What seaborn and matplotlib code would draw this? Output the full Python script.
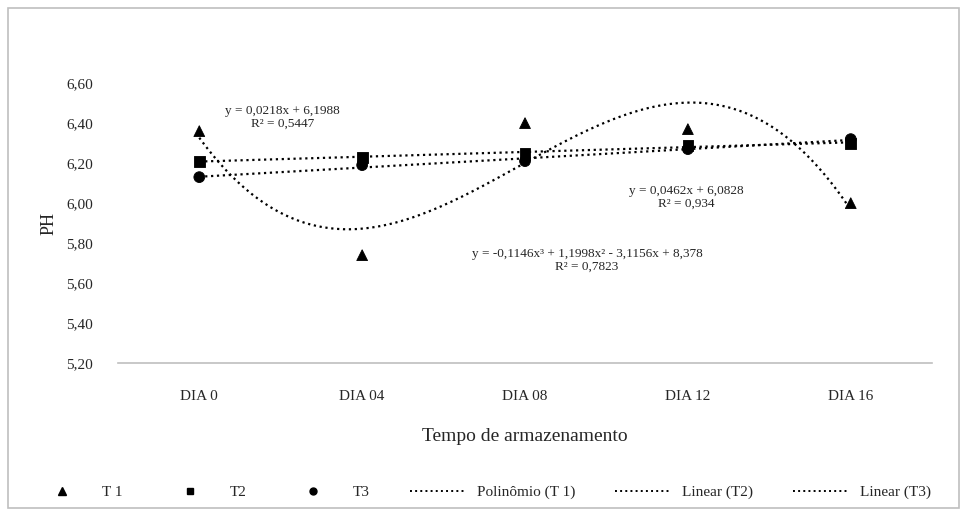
import numpy as np
import pandas as pd
import matplotlib
matplotlib.use("Agg")
import matplotlib.pyplot as plt
import seaborn as sns
from matplotlib.lines import Line2D
from matplotlib.patches import Rectangle

# Data
dias = ["DIA 0", "DIA 04", "DIA 08", "DIA 12", "DIA 16"]
t1 = [6.36, 5.74, 6.40, 6.37, 6.00]
t2 = [6.21, 6.23, 6.25, 6.29, 6.30]
t3 = [6.13, 6.19, 6.21, 6.27, 6.32]
y_ticks = [5.20, 5.40, 5.60, 5.80, 6.00, 6.20, 6.40, 6.60]

eq_t1 = "y = -0,1146x³ + 1,1998x² - 3,1156x + 8,378\nR² = 0,7823"
eq_t2 = "y = 0,0218x + 6,1988\nR² = 0,5447"
eq_t3 = "y = 0,0462x + 6,0828\nR² = 0,934"

sns.set_style("white")
plt.rcParams["font.family"] = ["Liberation Serif", "DejaVu Serif"]

x = np.arange(1, len(dias) + 1)
df = pd.DataFrame({"x": np.tile(x, 3),
                   "PH": t1 + t2 + t3,
                   "serie": ["T1"] * 5 + ["T2"] * 5 + ["T3"] * 5})

fig = plt.figure(figsize=(9.66, 5.13), dpi=100)
fig.patches.append(Rectangle((0.008, 0.01), 0.985, 0.975, transform=fig.transFigure,
                             fill=False, edgecolor="#bfbfbf", linewidth=1.2))
ax = fig.add_axes([0.122, 0.292, 0.843, 0.546])

# trend lines
xs = np.linspace(1, 5, 200)
p1 = np.polyfit(x, t1, 3)
p2 = np.polyfit(x, t2, 1)
p3 = np.polyfit(x, t3, 1)
for p in (p1, p2, p3):
    sns.lineplot(x=xs, y=np.polyval(p, xs), ax=ax, color="black",
                 linestyle=":", linewidth=1.6)

sns.scatterplot(data=df, x="x", y="PH", style="serie",
                markers={"T1": "^", "T2": "s", "T3": "o"},
                color="black", s=60, edgecolor="black", ax=ax, legend=False, zorder=3)

ax.text(1.51, 6.43, eq_t2, ha="center", va="center", fontsize=9.5, linespacing=1.1)
ax.text(3.99, 6.03, eq_t3, ha="center", va="center", fontsize=9.5, linespacing=1.1)
ax.text(3.38, 5.715, eq_t1, ha="center", va="center", fontsize=9.5, linespacing=1.1)

ax.set_xlim(0.5, 5.5)
ax.set_ylim(5.2, 6.6)
ax.set_xticks(x)
ax.set_xticklabels(dias, fontsize=11)
ax.set_yticks(y_ticks)
ax.set_yticklabels([f"{v:.2f}".replace(".", ",") for v in y_ticks], fontsize=11)
ax.tick_params(axis="x", length=0, pad=19)
ax.tick_params(axis="y", length=0, pad=18)
for s in ["top", "right", "left"]:
    ax.spines[s].set_visible(False)
ax.spines["bottom"].set_color("#bfbfbf")
ax.spines["bottom"].set_linewidth(1.2)
ax.set_xlabel("Tempo de armazenamento", fontsize=14, labelpad=18)
ax.set_ylabel("PH", fontsize=13, labelpad=6)

handles = [
    Line2D([], [], marker="^", color="black", linestyle="none", markersize=6),
    Line2D([], [], marker="s", color="black", linestyle="none", markersize=5),
    Line2D([], [], marker="o", color="black", linestyle="none", markersize=5),
    Line2D([], [], color="black", linestyle=":", linewidth=1.4),
    Line2D([], [], color="black", linestyle=":", linewidth=1.4),
    Line2D([], [], color="black", linestyle=":", linewidth=1.4),
]
labels = ["T 1", "T2", "T3", "Polinômio (T 1)", "Linear (T2)", "Linear (T3)"]
fig.legend(handles, labels, loc="center", bbox_to_anchor=(0.5, 0.04), ncol=6,
           frameon=False, fontsize=11, handlelength=3.6, handletextpad=0.8,
           columnspacing=2.6)

fig.savefig("out.png", dpi=100)
